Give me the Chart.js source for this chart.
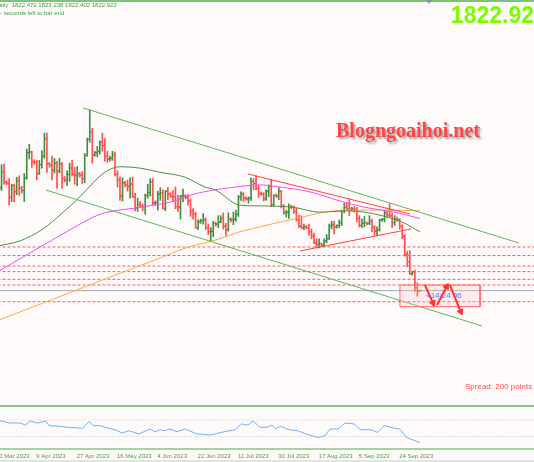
<!DOCTYPE html>
<html><head><meta charset="utf-8">
<script src="https://cdn.jsdelivr.net/npm/chart.js@4.4.0/dist/chart.umd.min.js"></script>
<style>
html,body{margin:0;padding:0;background:#fffafa;}
#wrap{position:relative;width:534px;height:462px;overflow:hidden;background:#fffafa;font-family:"Liberation Sans",Arial,sans-serif;}
#cv{position:absolute;left:0;top:0;}
.d{position:absolute;}
.t{position:absolute;white-space:nowrap;line-height:1;}
</style></head><body>
<div id="wrap">
<canvas id="cv" width="534" height="462"></canvas>
<div class="d" style="left:0;top:0;width:534px;height:2px;background:#7cc47c"></div>
<div class="d" style="left:426px;top:0;width:0;height:0;border-left:3px solid transparent;border-right:3px solid transparent;border-top:4px solid #8a8f99"></div>
<div class="d" style="left:0;top:405px;width:534px;height:2px;background:#86c686"></div>
<div class="d" style="left:0;top:448px;width:534px;height:2px;background:#a2d4a2"></div>
<div class="d" style="left:0;top:460px;width:534px;height:2px;background:#e2e2e2"></div>
<div class="t" style="left:-5px;top:2px;font-size:6px;color:#3f9f3f">Daily&nbsp; 1822.472 1823.238 1822.402 1822.922</div>
<div class="t" style="left:0;top:10px;font-size:6px;color:#3f9f3f">- seconds left to bar end</div>
<div class="t" style="right:0;top:4px;font-size:23px;font-weight:bold;color:#7cfc00;font-family:'Liberation Sans',Arial">1822.92</div>
<div class="t" style="left:336px;top:120px;font-size:20px;font-weight:bold;color:#ff4545;font-family:'Liberation Serif','Times New Roman',serif;text-shadow:2px 2px 2px rgba(0,0,0,0.35)">Blogngoaihoi.net</div>
<div class="t" style="left:465px;top:383px;font-size:8px;color:#ff4d4d">Spread: 200 points</div>
<div class="t" style="left:426px;top:292px;font-size:8px;color:#6a6aff">&lt;14:24:06</div>
</div>
<script>
// ---- data ----
const FIRST = 2; // bar number of first visible bar (bar 0 = 20 Mar 2023)
const tickIdx = [0,16,32,48,64,80,96,112,128,144,160];
const tickLabels = ['20 Mar 2023','9 Apr 2023','27 Apr 2023','16 May 2023','4 Jun 2023','22 Jun 2023','11 Jul 2023','30 Jul 2023','17 Aug 2023','5 Sep 2023','24 Sep 2023'];

const open  = [1940,1970,1993,1978,1976,1956,1973,1964,1980,1969,1966,1984,2020,2021,2007,2006,1990,2003,2015,2040,2004,2002,1995,2005,1994,2004,1983,1981,1989,1998,1989,1988,1990,1988,1983,2016,2039,2050,2017,2020,2022,2035,2030,2015,2011,2012,2017,1989,1981,1958,1977,1974,1972,1975,1957,1941,1946,1944,1943,1959,1963,1978,1948,1949,1961,1963,1940,1965,1961,1958,1957,1943,1942,1958,1958,1956,1951,1936,1932,1913,1921,1923,1924,1913,1907,1908,1919,1918,1921,1926,1915,1910,1925,1924,1925,1932,1957,1961,1955,1954,1955,1979,1976,1969,1962,1961,1954,1965,1972,1946,1959,1958,1965,1944,1934,1935,1943,1942,1936,1925,1915,1913,1914,1912,1907,1901,1891,1889,1890,1888,1894,1897,1915,1917,1914,1916,1920,1937,1942,1940,1939,1940,1939,1926,1916,1919,1920,1919,1922,1913,1908,1910,1924,1925,1934,1931,1930,1920,1925,1924,1915,1901,1874,1864,1847,1850,1827,1822.47];
const high  = [1976,2003,2004,1980,1983,1975,1975,1985,1987,1972,1990,2025,2032,2022,2010,2009,2009,2023,2048,2048,2006,2015,2012,2008,2012,2006,1986,1994,2005,2009,1999,2000,1992,1993,2019,2041,2081,2055,2022,2029,2037,2048,2040,2022,2015,2022,2021,1994,1985,1984,1979,1981,1984,1985,1962,1955,1950,1947,1961,1975,1983,1983,1951,1965,1970,1967,1966,1970,1963,1966,1971,1959,1959,1968,1960,1960,1954,1940,1935,1924,1925,1933,1927,1918,1913,1922,1921,1930,1930,1934,1919,1934,1927,1935,1938,1959,1964,1963,1957,1957,1984,1983,1987,1973,1964,1963,1967,1974,1982,1960,1961,1970,1966,1946,1938,1947,1945,1944,1941,1931,1930,1918,1916,1918,1911,1905,1897,1897,1891,1897,1903,1918,1922,1922,1917,1924,1938,1948,1949,1953,1942,1943,1942,1930,1925,1929,1921,1930,1925,1916,1914,1925,1926,1937,1936,1947,1933,1930,1928,1926,1917,1903,1879,1880,1851,1852,1834,1823.24];
const low   = [1934,1966,1975,1974,1945,1950,1950,1960,1959,1962,1950,1982,2011,1999,2003,1981,1989,1998,2012,1992,1999,1981,1991,1969,1991,1969,1978,1973,1979,1987,1975,1973,1985,1976,1977,2015,2035,2005,2015,2014,2018,2022,2008,2006,2008,2009,1987,1971,1952,1951,1971,1965,1955,1956,1937,1936,1942,1937,1932,1955,1958,1946,1945,1938,1952,1940,1937,1953,1956,1950,1940,1936,1925,1950,1954,1945,1929,1925,1912,1910,1919,1918,1910,1903,1893,1900,1915,1913,1920,1911,1902,1908,1921,1917,1922,1929,1952,1950,1952,1948,1952,1967,1967,1956,1959,1951,1952,1957,1943,1943,1956,1953,1941,1932,1928,1926,1940,1933,1922,1913,1911,1910,1911,1902,1897,1890,1885,1884,1886,1886,1891,1896,1911,1904,1912,1913,1916,1934,1938,1930,1937,1935,1921,1914,1913,1914,1917,1917,1907,1902,1901,1908,1922,1921,1928,1928,1913,1916,1922,1911,1897,1872,1857,1846,1845,1822,1815,1822.40];
const close = [1970,1993,1978,1976,1956,1973,1964,1980,1969,1966,1984,2020,2021,2007,2006,1990,2003,2015,2040,2004,2002,1995,2005,1994,2004,1983,1981,1989,1998,1989,1988,1990,1988,1983,2016,2039,2050,2017,2020,2022,2035,2030,2015,2011,2012,2017,1989,1981,1958,1977,1974,1972,1975,1957,1941,1946,1944,1943,1959,1963,1978,1948,1949,1961,1963,1940,1965,1961,1958,1957,1943,1942,1958,1959,1956,1951,1936,1932,1913,1921,1923,1924,1913,1907,1908,1919,1918,1921,1926,1915,1910,1925,1924,1925,1932,1957,1961,1955,1954,1955,1979,1976,1969,1962,1961,1954,1965,1972,1946,1959,1958,1965,1944,1934,1935,1943,1942,1936,1925,1915,1913,1914,1912,1907,1901,1891,1889,1890,1888,1894,1897,1915,1917,1914,1916,1920,1937,1942,1940,1939,1940,1939,1926,1916,1919,1920,1919,1922,1913,1908,1910,1924,1925,1934,1931,1930,1920,1925,1924,1915,1901,1874,1864,1848,1850,1827,1822,1822.92];

const ma50Idx  = [2,10.3,19.4,26.2,34.1,39.3,44.0,50.0,57.9,65.9,75.8,83.7,87.7,97.6,105.6,118.7,129.4,140.5,147.2,154.0,161.9,169];
const ma50Val  = [1887,1894,1911,1931,1957,1977,1992,2000,1998,1992,1985,1971,1967,1945,1944,1942,1935,1937,1935,1930,1921,1907];
const ma100Idx = [2,16.3,30.2,42.1,57.9,70.6,78.6,87.7,93.7,105.6,113.5,125.4,137.3,147.2,160.3,169];
const ma100Val = [1851,1881,1910,1932,1942,1950,1960,1967,1970,1974,1971,1964,1951,1942,1934,1926];
const ma200Idx = [2,22.2,42.1,61.9,77.0,87.7,97.6,105.6,113.5,121.4,129.4,140.5,154.4,169];
const ma200Val = [1781,1809,1837,1864,1885,1895,1907,1914,1921,1927,1934,1938,1938,1937];

const rsiIdx = [2,6.3,10.3,12.5,14.3,17.2,20.6,21.8,26.0,29.4,35.3,37.7,39.5,42.1,44.0,48.3,50.8,53.6,57.5,61.9,63.9,65.9,67.9,69.8,72.6,75.8,80.6,86.1,90.1,95.6,98.2,100.8,102.8,105.6,108.3,110.3,111.7,113.7,117.1,120.5,123.8,128.6,131.3,133.3,136.5,139.3,142.9,145.4,149.6,152.2,154.8,158.9,161.0,163.7,166.3,169];
const rsiVal = [68.8,62.7,62.7,57.9,67.6,62.7,67.6,56.4,54.7,52.3,49.9,66.4,56.4,56.4,52.3,45.8,38.5,44.1,36.1,48.2,41.6,46.5,44.1,48.2,41.6,48.2,36.1,33.6,39.9,46.5,60.3,57.9,67.6,52.3,52.3,57.9,48.2,54.7,46.5,44.1,36.1,27.6,31.7,48.2,48.2,62.7,60.3,46.5,46.5,39.9,56.4,49.9,48.2,27.6,21.5,15.2];
const rsiLevels = [70,30];

const levels = [1885.3,1873.1,1858.1,1850.1,1839.1,1831.0,1807.1];
const bid = 1822.92;
const chanUpperIdx = [35.3,208.3], chanUpperVal = [2084,1891];
const chanLowerIdx = [20.6,193.7], chanLowerVal = [1966.7,1772.4];
const redUpperIdx = [100.8,165.1], redUpperVal = [1989.6,1932.4];
const redLowerIdx = [121.4,165.5], redLowerVal = [1879.6,1911.0];
const boxIdx = [161.1,192.9], boxVal = [1831,1800];
const arrowIdx = [[171.0,174.2],[175.8,179.6],[180.9,185.2]];
const arrowVal = [[1831.0,1805.3],[1802.4,1828.6],[1831.0,1792.9]];

// ---- axis ranges ----
const X_MIN = 2.381, X_MAX = 214.29;
const P_MIN = 1578.14, P_MAX = 2238.14;
const R_MIN = -31.82, R_MAX = 1088.18;

const pts = (xs, ys) => xs.map((x,k)=>({x, y:ys[k]}));
const idx = open.map((_,k)=>FIRST+k);
const UP='#3f8f3f', DN='#ff4f4f';
const barColors = open.map((o,k)=> close[k]>=o ? UP : DN);
const arrowRot = [156,28,158];

const ds = [];
arrowIdx.forEach((a,k)=>ds.push({type:'line', data:pts(a,arrowVal[k]), borderColor:'#ff3030', borderWidth:2,
  pointRadius:[0,3.5], pointStyle:'triangle', pointRotation:[0,arrowRot[k]], pointBackgroundColor:'#ff3030', pointBorderColor:'#ff3030', pointBorderWidth:1, yAxisID:'y'}));
ds.push({type:'line', data:[{x:boxIdx[0],y:boxVal[0]},{x:boxIdx[1],y:boxVal[0]},{x:boxIdx[1],y:boxVal[1]},{x:boxIdx[0],y:boxVal[1]},{x:boxIdx[0],y:boxVal[0]}],
  borderColor:'#ff6a6a', borderWidth:1, backgroundColor:'rgba(255,190,190,0.25)', fill:'shape', pointRadius:0, yAxisID:'y'});
ds.push({type:'line', data:pts(redUpperIdx,redUpperVal), borderColor:'#ff4040', borderWidth:1, pointRadius:0, yAxisID:'y'});
ds.push({type:'line', data:pts(redLowerIdx,redLowerVal), borderColor:'#ff4040', borderWidth:1, pointRadius:0, yAxisID:'y'});
ds.push({type:'line', data:pts(chanUpperIdx,chanUpperVal), borderColor:'#5cb85c', borderWidth:1, pointRadius:0, yAxisID:'y'});
ds.push({type:'line', data:pts(chanLowerIdx,chanLowerVal), borderColor:'#5cb85c', borderWidth:1, pointRadius:0, yAxisID:'y'});
ds.push({type:'line', data:pts(ma50Idx,ma50Val), borderColor:'#4a8f4a', borderWidth:1, pointRadius:0, tension:0.4, cubicInterpolationMode:'monotone', yAxisID:'y'});
ds.push({type:'line', data:pts(ma100Idx,ma100Val), borderColor:'#f050f0', borderWidth:1, pointRadius:0, tension:0.4, cubicInterpolationMode:'monotone', yAxisID:'y'});
ds.push({type:'line', data:pts(ma200Idx,ma200Val), borderColor:'#ffa64d', borderWidth:1, pointRadius:0, tension:0.4, cubicInterpolationMode:'monotone', yAxisID:'y'});
ds.push({type:'line', showLine:false, data:idx.map((x,k)=>({x:x-0.4, y:open[k]})), pointStyle:'line', pointRadius:1, pointBorderWidth:1, pointBorderColor:barColors, yAxisID:'y'});
ds.push({type:'line', showLine:false, data:idx.map((x,k)=>({x:x+0.4, y:close[k]})), pointStyle:'line', pointRadius:1, pointBorderWidth:1, pointBorderColor:barColors, yAxisID:'y'});
ds.push({type:'bar', data:idx.map((x,k)=>({x, y:[low[k],high[k]]})), backgroundColor:barColors, borderWidth:0, barThickness:1, yAxisID:'y', xAxisID:'x'});
levels.forEach(p=>ds.push({type:'line', data:[{x:X_MIN-3,y:p},{x:X_MAX+3,y:p}], borderColor:'#ff5a5a', borderWidth:1, borderDash:[3,2], pointRadius:0, yAxisID:'y'}));
ds.push({type:'line', data:[{x:X_MIN-3,y:bid},{x:X_MAX+3,y:bid}], borderColor:'#a4a8b2', borderWidth:1, pointRadius:0, yAxisID:'y'});
ds.push({type:'line', data:pts(rsiIdx,rsiVal), borderColor:'#6fb0ff', borderWidth:1, pointRadius:0, yAxisID:'yr'});
rsiLevels.forEach(v=>ds.push({type:'line', data:[{x:X_MIN-3,y:v},{x:X_MAX+3,y:v}], borderColor:'#c4c4c4', borderWidth:1, borderDash:[1,2], pointRadius:0, yAxisID:'yr'}));

const dateLabels = {
  id:'dateLabels',
  afterDraw(chart){
    const ctx = chart.ctx, xs = chart.scales.x;
    ctx.save();
    ctx.font = '6px "Liberation Sans", Arial, sans-serif';
    ctx.fillStyle = '#4e9a3e';
    ctx.textBaseline = 'alphabetic';
    tickIdx.forEach((v,k)=>ctx.fillText(tickLabels[k], xs.getPixelForValue(v)+2, 458));
    ctx.restore();
  }
};

new Chart(document.getElementById('cv'), {
  type:'line',
  data:{datasets:ds},
  options:{
    responsive:false, animation:false, events:[],
    layout:{padding:0, autoPadding:false},
    plugins:{legend:{display:false}, tooltip:{enabled:false}},
    scales:{
      x:{type:'linear', min:X_MIN, max:X_MAX, display:false, offset:false},
      y:{type:'linear', min:P_MIN, max:P_MAX, display:false},
      yr:{type:'linear', min:R_MIN, max:R_MAX, display:false}
    }
  },
  plugins:[dateLabels]
});
</script>
</body></html>
